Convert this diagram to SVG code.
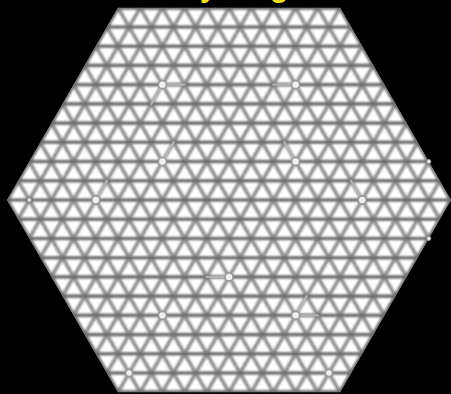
<svg xmlns="http://www.w3.org/2000/svg" xmlns:xlink="http://www.w3.org/1999/xlink" width="451" height="394" viewBox="0 0 451 394">
<style>
.node{fill:#f0f0f0;stroke:#999;stroke-width:1.6}
.dot{fill:#ededed;stroke:#a0a0a0;stroke-width:1}
.hl{fill:none;stroke:#b5b5b5;stroke-width:2.4;stroke-linecap:round}
.title{font-family:"Liberation Sans",Arial,sans-serif;font-weight:bold;font-size:30px;fill:#f2e21a}
</style>
<defs>
<clipPath id="hex"><polygon points="7,200 117.9,7.74 340.1,7.74 451,200 340.1,392.26 117.9,392.26"/></clipPath>
<filter id="soft" x="-5%" y="-5%" width="110%" height="110%"><feGaussianBlur stdDeviation="0.85"/></filter>
<path id="L" d="M-40 -30.71H498M-40 -11.49H498M-40 7.74H498M-40 26.97H498M-40 46.19H498M-40 65.42H498M-40 84.64H498M-40 103.87H498M-40 123.1H498M-40 142.32H498M-40 161.55H498M-40 180.77H498M-40 200H498M-40 219.23H498M-40 238.45H498M-40 257.68H498M-40 276.9H498M-40 296.13H498M-40 315.36H498M-40 334.58H498M-40 353.81H498M-40 373.03H498M-40 392.26H498M-40 411.49H498M-40 430.71H498"/>
</defs>
<rect width="451" height="394" fill="#000"/>
<text class="title" y="-3"><tspan x="200">y</tspan><tspan x="270">g</tspan></text>
<g id="lattice" clip-path="url(#hex)">
<polygon points="7,200 117.9,7.74 340.1,7.74 451,200 340.1,392.26 117.9,392.26" fill="#fff"/>
<g filter="url(#soft)" fill="none">
<use xlink:href="#L" stroke="#8a8a8a" stroke-width="3.5" transform="rotate(60 229 200)"/>
<use xlink:href="#L" stroke="#8a8a8a" stroke-width="3.5" transform="rotate(-60 229 200)"/>
<use xlink:href="#L" stroke="#8a8a8a" stroke-width="3.6"/>
<use xlink:href="#L" stroke="#4c4c4c" stroke-width="1.5"/>
<polygon points="7,200 117.9,7.74 340.1,7.74 451,200 340.1,392.26 117.9,392.26" stroke="#6e6e6e" stroke-width="4"/>
</g>
</g>
<g id="connectors">
<line class="hl" x1="162.4" y1="84.64" x2="184.6" y2="84.64"/>
<line class="hl" x1="162.4" y1="84.64" x2="151.3" y2="103.87"/>
<line class="hl" x1="295.6" y1="84.64" x2="273.4" y2="84.64"/>
<line class="hl" x1="162.4" y1="161.55" x2="173.5" y2="142.32"/>
<line class="hl" x1="295.6" y1="161.55" x2="284.5" y2="142.32"/>
<line class="hl" x1="95.8" y1="200" x2="106.9" y2="180.77"/>
<line class="hl" x1="362.2" y1="200" x2="351.1" y2="180.77"/>
<line class="hl" x1="229" y1="276.9" x2="206.8" y2="276.9"/>
<line class="hl" x1="295.6" y1="315.36" x2="306.7" y2="296.13"/>
<line class="hl" x1="295.6" y1="315.36" x2="317.8" y2="315.36"/>
</g>
<g id="n1"><circle class="node" cx="162.4" cy="84.64" r="4"/></g>
<g id="n2"><circle class="node" cx="295.6" cy="84.64" r="4"/></g>
<g id="n3"><circle class="node" cx="162.4" cy="161.55" r="4"/></g>
<g id="n4"><circle class="node" cx="295.6" cy="161.55" r="4"/></g>
<g id="n5"><circle class="node" cx="95.8" cy="200" r="4"/></g>
<g id="n6"><circle class="node" cx="362.2" cy="200" r="4"/></g>
<g id="n7"><circle class="node" cx="229" cy="276.9" r="4"/></g>
<g id="n8"><circle class="node" cx="162.4" cy="315.36" r="4"/></g>
<g id="n9"><circle class="node" cx="295.6" cy="315.36" r="4"/></g>
<g id="n10"><circle class="node" cx="129.1" cy="373.03" r="3.5"/></g>
<g id="n11"><circle class="node" cx="328.9" cy="373.03" r="3.5"/></g>
<g id="d1"><circle class="dot" cx="29.2" cy="200" r="2"/></g>
<g id="d2"><circle class="dot" cx="428.8" cy="161.55" r="2"/></g>
<g id="d3"><circle class="dot" cx="428.8" cy="238.45" r="2"/></g>
</svg>
